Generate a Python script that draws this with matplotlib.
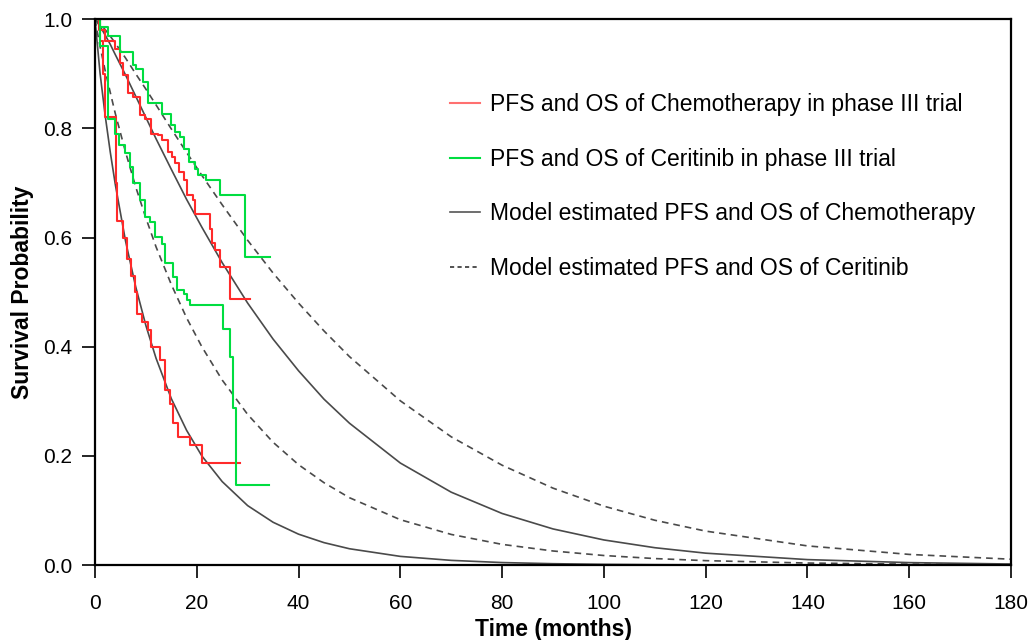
import numpy as np
import matplotlib
matplotlib.use('Agg')
import matplotlib.pyplot as plt

plt.rcParams['font.family'] = ['Liberation Sans', 'DejaVu Sans']

# Kaplan-Meier steps: step time and survival after it
chemo_pfs_t = [0, 1.0, 1.6, 2.0, 4.2, 4.4, 5.5, 6.3, 7.0, 7.8, 8.3, 9.2, 10.5,
               11.1, 12.8, 13.8, 14.7, 15.4, 16.4, 18.7, 21.0, 28.5]
chemo_pfs_s = [1.0, 0.96, 0.90, 0.82, 0.70, 0.63, 0.60, 0.56, 0.53, 0.50,
               0.46, 0.445, 0.43, 0.40, 0.375, 0.32, 0.295, 0.26, 0.235,
               0.22, 0.187, 0.187]

cer_pfs_t = [0, 1.0, 2.6, 4.0, 4.8, 5.9, 6.9, 7.5, 8.8, 9.8, 10.8, 11.8, 13.1,
             13.8, 15.4, 16.1, 17.4, 18.0, 18.7, 25.2, 26.5, 27.2, 27.8, 34.1]
cer_pfs_s = [1.0, 0.95, 0.818, 0.79, 0.77, 0.755, 0.73, 0.70, 0.668, 0.638,
             0.629, 0.601, 0.589, 0.553, 0.528, 0.504, 0.497, 0.485, 0.476,
             0.433, 0.382, 0.287, 0.146, 0.146]

chemo_os_t = [0, 0.8, 2.0, 3.9, 5.0, 5.6, 6.5, 7.5, 8.8, 9.8, 11.1, 12.4, 13.1,
              14.4, 15.1, 15.7, 16.5, 17.4, 18.0, 19.3, 19.6, 22.6, 22.9, 23.6,
              24.6, 26.5, 30.5]
chemo_os_s = [1.0, 0.98, 0.96, 0.946, 0.92, 0.897, 0.864, 0.858, 0.824, 0.818,
              0.79, 0.788, 0.778, 0.757, 0.748, 0.736, 0.72, 0.705, 0.678,
              0.668, 0.644, 0.615, 0.59, 0.577, 0.546, 0.488, 0.488]

cer_os_t = [0, 1.0, 2.5, 4.9, 7.5, 8.0, 9.5, 10.5, 13.1, 15.0, 15.7, 16.7,
            17.4, 18.5, 19.6, 20.3, 21.9, 24.6, 29.5, 34.4]
cer_os_s = [1.0, 0.985, 0.97, 0.94, 0.916, 0.909, 0.885, 0.846, 0.827, 0.806,
            0.794, 0.784, 0.763, 0.739, 0.726, 0.715, 0.705, 0.678, 0.565,
            0.565]

# model estimated curves, read at these months
model_t = [0, 1, 2, 3, 4, 6, 8, 10, 12, 15, 18, 21, 25, 30, 35, 40, 45, 50,
           60, 70, 80, 90, 100, 110, 120, 140, 160, 180]
model_chemo_pfs = [1.0, 0.901, 0.824, 0.757, 0.697, 0.594, 0.510, 0.439,
                   0.379, 0.305, 0.247, 0.200, 0.153, 0.109, 0.0785, 0.0567,
                   0.0412, 0.030, 0.016, 0.0087, 0.0047, 0.0026, 0.0014,
                   0.0008, 0.0004, 0.0001, 0.0, 0.0]
model_cer_pfs = [1.0, 0.950, 0.906, 0.866, 0.827, 0.757, 0.693, 0.636, 0.583,
                 0.514, 0.453, 0.400, 0.339, 0.276, 0.225, 0.184, 0.151,
                 0.1235, 0.0832, 0.0562, 0.038, 0.0259, 0.0176, 0.012,
                 0.0082, 0.0038, 0.0018, 0.0009]
model_chemo_os = [1.0, 0.987, 0.971, 0.954, 0.935, 0.898, 0.859, 0.820, 0.781,
                  0.725, 0.670, 0.619, 0.554, 0.480, 0.414, 0.356, 0.304,
                  0.260, 0.187, 0.1336, 0.0946, 0.0663, 0.0461, 0.0319,
                  0.0219, 0.0101, 0.0046, 0.002]
model_cer_os = [1.0, 0.992, 0.981, 0.969, 0.956, 0.929, 0.900, 0.872, 0.843,
                0.799, 0.756, 0.714, 0.660, 0.595, 0.535, 0.480, 0.429, 0.382,
                0.301, 0.235, 0.183, 0.141, 0.108, 0.0822, 0.0623, 0.0352,
                0.0196, 0.0108]

labels = ['PFS and OS of Chemotherapy in phase III trial',
          'PFS and OS of Ceritinib in phase III trial',
          'Model estimated PFS and OS of Chemotherapy',
          'Model estimated PFS and OS of Ceritinib']

red = '#ff2a2a'
green = '#00dd40'
grey = '#4a4a4a'

fig = plt.figure(figsize=(10.3, 6.4), dpi=100)
ax = fig.add_axes([0.0922, 0.117, 0.8894, 0.853])

ax.plot(model_t, model_chemo_pfs, color=grey, lw=1.2)
ax.plot(model_t, model_chemo_os, color=grey, lw=1.2)
ax.plot(model_t, model_cer_pfs, color=grey, lw=1.2, ls=(0, (4, 3)))
ax.plot(model_t, model_cer_os, color=grey, lw=1.2, ls=(0, (4, 3)))

ax.step(chemo_pfs_t, chemo_pfs_s, where='post', color=red, lw=1.5)
ax.step(chemo_os_t, chemo_os_s, where='post', color=red, lw=1.5)
ax.step(cer_pfs_t, cer_pfs_s, where='post', color=green, lw=1.5)
ax.step(cer_os_t, cer_os_s, where='post', color=green, lw=1.5)

h1, = ax.plot([], [], color='#ff7070', lw=1.5)
h2, = ax.plot([], [], color=green, lw=1.5)
h3, = ax.plot([], [], color='#555555', lw=1.2)
h4, = ax.plot([], [], color='#333333', lw=1.2, ls=(0, (2.5, 2)))
fig.legend([h1, h2, h3, h4], labels, loc='upper left',
           bbox_to_anchor=(0.417, 0.887), frameon=False, fontsize=16.5,
           handlelength=1.31, handletextpad=0.44, labelspacing=1.38)

ax.set_xlim(0, 180)
ax.set_ylim(0, 1.0)
ax.set_xticks(np.arange(0, 181, 20))
ax.set_yticks(np.arange(0, 1.01, 0.2))
ax.set_yticklabels(['%.1f' % v for v in np.arange(0, 1.01, 0.2)])
ax.tick_params(direction='out', length=9.5, width=1.2, labelsize=15)
ax.tick_params(axis='x', pad=11)
ax.tick_params(axis='y', pad=7)
for s in ax.spines.values():
    s.set_linewidth(1.6)

ax.set_xlabel('Time (months)', fontsize=16.5, fontweight='bold', labelpad=4)
ax.set_ylabel('Survival Probability', fontsize=16.5, fontweight='bold',
              labelpad=6)

fig.savefig('out.png', dpi=100)
